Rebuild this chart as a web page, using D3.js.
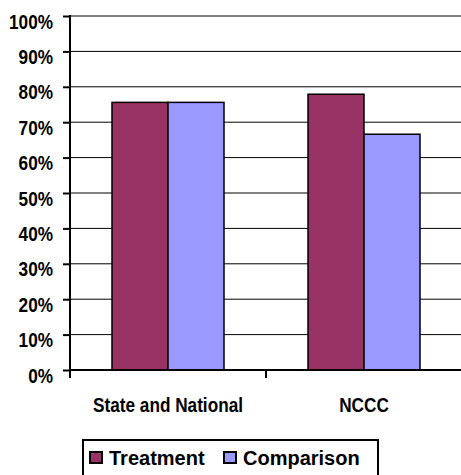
<!DOCTYPE html>
<html>
<head>
<meta charset="utf-8">
<script src="https://cdn.jsdelivr.net/npm/d3@7"></script>
<style>
  html, body { margin: 0; padding: 0; background: #fff; }
  svg { display: block; }
  text { font-family: "Liberation Sans", Arial, sans-serif; font-weight: bold; fill: #000; }
</style>
</head>
<body>
<svg id="chart" width="461" height="475"></svg>
<script>
// Chart data
const categories = ["State and National", "NCCC"];
const seriesNames = ["Treatment", "Comparison"];
const treatment = [0.756, 0.779];
const comparison = [0.756, 0.666];
const yTicks = [0, 0.1, 0.2, 0.3, 0.4, 0.5, 0.6, 0.7, 0.8, 0.9, 1.0];
const colors = ["#993366", "#9999FF"];

const svg = d3.select("#chart");
const plotLeft = 70, plotRight = 462, plotTop = 16, plotBottom = 370;

const x = d3.scaleBand().domain(categories).range([plotLeft, plotRight]).paddingInner(0).paddingOuter(0);
const xs = d3.scaleBand().domain(seriesNames).range([0, x.bandwidth()]).paddingInner(0).paddingOuter(0.75);
const y = d3.scaleLinear().domain([0, 1]).range([plotBottom, plotTop]);

// Gridlines
svg.append("g")
  .selectAll("line")
  .data(yTicks.filter(d => d > 0))
  .join("line")
  .attr("x1", plotLeft).attr("x2", plotRight)
  .attr("y1", d => y(d)).attr("y2", d => y(d))
  .attr("stroke", "#000").attr("stroke-width", 1);

// Bars
const rows = categories.map((c, i) => ({ cat: c, values: [treatment[i], comparison[i]] }));
const groups = svg.append("g").selectAll("g")
  .data(rows).join("g")
  .attr("transform", d => `translate(${x(d.cat)},0)`);
groups.selectAll("rect")
  .data(d => d.values.map((v, j) => ({ name: seriesNames[j], v, j })))
  .join("rect")
  .attr("x", d => xs(d.name))
  .attr("width", xs.bandwidth())
  .attr("y", d => y(d.v))
  .attr("height", d => y(0) - y(d.v))
  .attr("fill", d => colors[d.j])
  .attr("stroke", "#000").attr("stroke-width", 1.5);

// Y axis
const yAxis = d3.axisLeft(y).tickValues(yTicks).tickSize(7).tickFormat(d3.format(".0%"));
const yg = svg.append("g").attr("transform", `translate(${plotLeft},0)`).call(yAxis);
yg.select(".domain").remove();
yg.selectAll(".tick line").attr("stroke", "#000").attr("stroke-width", 2);
yg.selectAll(".tick text").remove();
svg.append("line")
  .attr("x1", plotLeft).attr("x2", plotLeft).attr("y1", plotTop - 1).attr("y2", plotBottom + 8)
  .attr("stroke", "#000").attr("stroke-width", 2);

// Y labels (narrow bold)
svg.append("g").selectAll("text")
  .data(yTicks).join("text")
  .attr("transform", d => `translate(53,${y(d) + 12.5}) scale(0.86,1)`)
  .attr("text-anchor", "end")
  .attr("font-size", 20)
  .text(d => d3.format(".0%")(d));

// X axis
svg.append("line")
  .attr("x1", plotLeft).attr("x2", plotRight).attr("y1", plotBottom).attr("y2", plotBottom)
  .attr("stroke", "#000").attr("stroke-width", 2);
const xBounds = categories.map(c => x(c)).concat([x(categories[categories.length - 1]) + x.bandwidth()]);
svg.append("g").selectAll("line")
  .data(xBounds).join("line")
  .attr("x1", d => d).attr("x2", d => d)
  .attr("y1", plotBottom).attr("y2", plotBottom + 8)
  .attr("stroke", "#000").attr("stroke-width", 2);
svg.append("g").selectAll("text")
  .data(categories).join("text")
  .attr("transform", d => `translate(${x(d) + x.bandwidth() / 2},411.5) scale(0.86,1)`)
  .attr("text-anchor", "middle")
  .attr("font-size", 20)
  .text(d => d);

// Legend
const lg = svg.append("g");
lg.append("rect")
  .attr("x", 83).attr("y", 440).attr("width", 295).attr("height", 50)
  .attr("fill", "#fff").attr("stroke", "#000").attr("stroke-width", 2);
const legendX = [90, 224];
seriesNames.forEach((name, i) => {
  lg.append("rect")
    .attr("x", legendX[i]).attr("y", 452).attr("width", 12).attr("height", 11)
    .attr("fill", colors[i]).attr("stroke", "#000").attr("stroke-width", 2);
  lg.append("text")
    .attr("x", legendX[i] + 19).attr("y", 465)
    .attr("font-size", 20)
    .text(name);
});
</script>
</body>
</html>
